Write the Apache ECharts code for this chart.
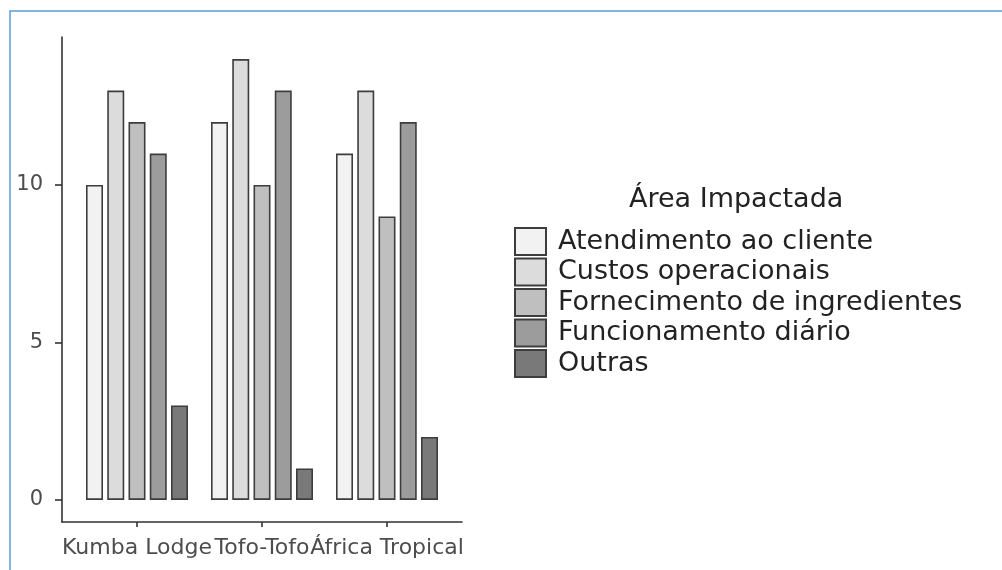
<!DOCTYPE html>
<html>
<head>
<meta charset="utf-8">
<script src="https://cdn.jsdelivr.net/npm/echarts@6/dist/echarts.min.js"></script>
<style>
  html, body { margin: 0; padding: 0; background: #fff; }
  #chart { width: 1002px; height: 570px; }
</style>
</head>
<body>
<div id="chart"></div>
<script>
const categories = ["Kumba Lodge", "Tofo-Tofo", "África Tropical"];
const areas = [
  "Atendimento ao cliente",
  "Custos operacionais",
  "Fornecimento de ingredientes",
  "Funcionamento diário",
  "Outras"
];
const atendimento = [10, 12, 11];
const custos = [13, 14, 13];
const fornecimento = [12, 10, 9];
const funcionamento = [11, 13, 12];
const outras = [3, 1, 2];
const yTicks = [0, 5, 10];

const seriesValues = [atendimento, custos, fornecimento, funcionamento, outras];
const fills = ["#f2f2f2", "#dcdcdc", "#bfbfbf", "#9c9c9c", "#797979"];

const font = "DejaVu Sans";
const chart = echarts.init(document.getElementById("chart"));

const option = {
  backgroundColor: "#fff",
  animation: false,
  textStyle: { fontFamily: font },
  graphic: [
    {
      type: "rect",
      shape: { x: 10, y: 11, width: 1010, height: 580 },
      style: { fill: "none", stroke: "#5b9bd5", lineWidth: 1.5 },
      silent: true
    }
  ],
  title: {
    text: "Área Impactada",
    left: 624,
    top: 181,
    textStyle: { fontFamily: font, fontSize: 27, fontWeight: "normal", color: "#222" }
  },
  legend: {
    data: areas,
    orient: "vertical",
    left: 509,
    top: 222,
    icon: "rect",
    itemWidth: 31,
    itemHeight: 27,
    itemGap: 1.5,
    textStyle: { fontFamily: font, fontSize: 27, lineHeight: 27, color: "#222", padding: [0, 0, 0, 7] }
  },
  grid: [
    { left: 74.5, top: 37, width: 375, height: 485 },
    { left: 62, top: 37, width: 400, height: 485 }
  ],
  xAxis: [
    {
      type: "category",
      gridIndex: 0,
      data: categories,
      axisLine: { show: false, onZero: false },
      axisTick: { show: true, alignWithLabel: true, length: 5, lineStyle: { color: "#333", width: 1.6 } },
      axisLabel: { fontFamily: font, fontSize: 22, color: "#4d4d4d", margin: 15, interval: 0 }
    },
    {
      type: "value",
      gridIndex: 1,
      min: 0,
      max: 1,
      axisLine: { show: true, onZero: false, lineStyle: { color: "#333", width: 1.6 } },
      axisTick: { show: false },
      axisLabel: { show: false },
      splitLine: { show: false }
    }
  ],
  yAxis: [
    {
      type: "value",
      gridIndex: 0,
      min: -0.7,
      max: 14.7,
      show: false,
      splitLine: { show: false }
    },
    {
      type: "value",
      gridIndex: 1,
      min: -0.7,
      max: 14.7,
      axisLine: { show: true, onZero: false, lineStyle: { color: "#333", width: 1.6 } },
      axisTick: { show: true, length: 7, customValues: yTicks, lineStyle: { color: "#333", width: 1.6 } },
      axisLabel: { customValues: yTicks, fontFamily: font, fontSize: 21, color: "#4d4d4d", margin: 19 },
      splitLine: { show: false }
    }
  ],
  series: areas.map((name, i) => ({
    name,
    type: "bar",
    xAxisIndex: 0,
    yAxisIndex: 0,
    data: seriesValues[i],
    barWidth: 17,
    barGap: "25%",
    itemStyle: { color: fills[i], borderColor: "#3d3d3d", borderWidth: 1.6 }
  }))
};

chart.setOption(option);
</script>
</body>
</html>
